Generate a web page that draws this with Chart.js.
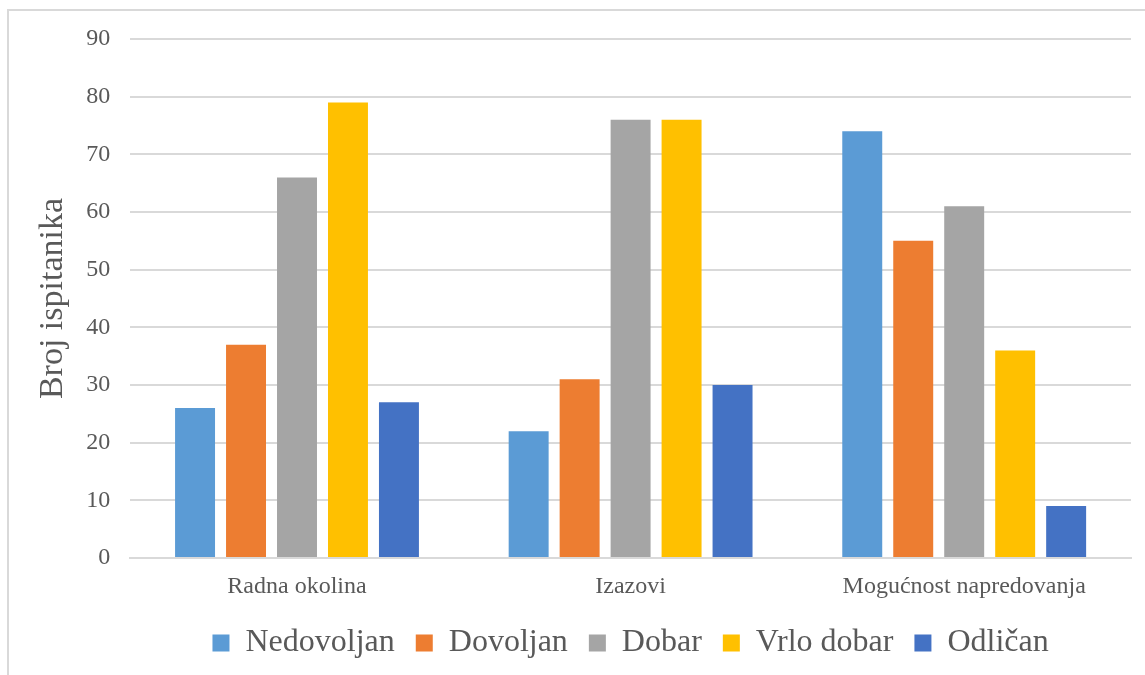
<!DOCTYPE html>
<html>
<head>
<meta charset="utf-8">
<script src="https://cdn.jsdelivr.net/npm/chart.js@4"></script>
<style>
  html, body { margin: 0; padding: 0; background: #fff; overflow: hidden; }
  #frame {
    position: absolute; left: 7px; top: 9px; width: 1200px; height: 700px;
    border: 2px solid #d9d9d9; box-sizing: border-box;
  }
  #wrap { position: absolute; left: 0; top: 0; width: 1145px; height: 675px; }
</style>
</head>
<body>
<div id="frame"></div>
<div id="wrap"><canvas id="chart"></canvas></div>
<script>
'use strict';

// ── Data ──────────────────────────────────────────────────────────────────────

const categories = ['Radna okolina', 'Izazovi', 'Mogućnost napredovanja'];

const nedovoljan = [26, 22, 74];
const dovoljan   = [37, 31, 55];
const dobar      = [66, 76, 61];
const vrloDobar  = [79, 76, 36];
const odlican    = [27, 30, 9];

const yTicks = [0, 10, 20, 30, 40, 50, 60, 70, 80, 90];

// ── Style ─────────────────────────────────────────────────────────────────────

const FONT  = "'Liberation Serif', 'Times New Roman', serif";
const TEXT  = '#595959';
const GRID  = '#d9d9d9';

Chart.defaults.font.family = FONT;
Chart.defaults.color = TEXT;

const series = [
  { label: 'Nedovoljan', data: nedovoljan, color: '#5b9bd5' },
  { label: 'Dovoljan',   data: dovoljan,   color: '#ed7d31' },
  { label: 'Dobar',      data: dobar,      color: '#a5a5a5' },
  { label: 'Vrlo dobar', data: vrloDobar,  color: '#ffc000' },
  { label: 'Odličan',    data: odlican,    color: '#4472c4' },
];

new Chart(document.getElementById('chart'), {
  type: 'bar',
  data: {
    labels: categories,
    datasets: series.map(s => ({
      label: s.label,
      data: s.data,
      backgroundColor: s.color,
      borderWidth: 0,
      categoryPercentage: 0.764,
      barPercentage: 0.784,
    })),
  },
  options: {
    responsive: true,
    maintainAspectRatio: false,
    animation: false,
    layout: { padding: { top: 39, right: 14, left: 12, bottom: 6 } },
    plugins: {
      tooltip: { enabled: false },
      legend: {
        position: 'bottom',
        fullSize: false,
        labels: {
          font: { size: 32 },
          color: TEXT,
          boxWidth: 17,
          boxHeight: 17,
          padding: 21,
        },
      },
    },
    scales: {
      x: {
        grid: { display: false, drawTicks: false },
        border: { color: GRID, width: 2 },
        ticks: { font: { size: 24 }, color: TEXT, padding: 14 },
        // fixed band height between axis line and legend
        afterFit: axis => { axis.height = 48; },
      },
      y: {
        min: 0,
        max: 90,
        afterBuildTicks: axis => { axis.ticks = yTicks.map(v => ({ value: v })); },
        grid: { color: GRID, lineWidth: 2, drawTicks: false },
        border: { display: false },
        ticks: { font: { size: 24 }, color: TEXT, padding: 20 },
        title: {
          display: true,
          text: 'Broj ispitanika',
          font: { size: 34, lineHeight: 0.8 },
          color: TEXT,
          padding: { top: 27, bottom: 0 },
        },
      },
    },
  },
});
</script>
</body>
</html>
